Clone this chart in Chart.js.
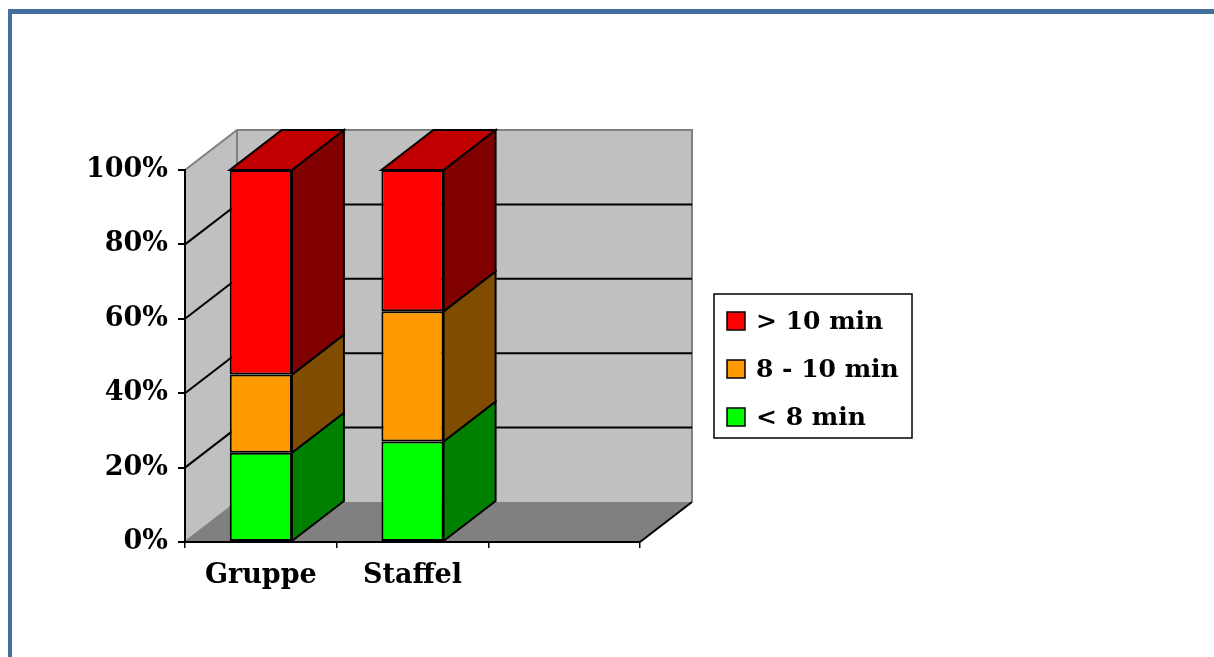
<!DOCTYPE html>
<html>
<head>
<meta charset="utf-8">
<script src="https://cdn.jsdelivr.net/npm/chart.js@4.4.1/dist/chart.umd.min.js"></script>
<style>
  html, body { margin: 0; padding: 0; background: #fff; overflow: hidden; }
  #frame { position: absolute; left: 8px; top: 9px; right: 0; bottom: 0;
           border-left: 4px solid #44709f; border-top: 5px solid #44709f; }
  #wrap { position: absolute; left: 0; top: 0; width: 1214px; height: 657px; }
</style>
</head>
<body>
<div id="frame"></div>
<div id="wrap"><canvas id="chart"></canvas></div>
<script>
// --- data ---
const categories = ['Gruppe', 'Staffel', ''];
const seriesLabels = ['< 8 min', '8 - 10 min', '> 10 min'];
const under8 = [24, 27, null];
const from8to10 = [21, 35, null];
const over10 = [55, 38, null];
const yTicks = [0, 20, 40, 60, 80, 100];

// --- styles ---
const frontColors = ['#00ff00', '#ff9900', '#ff0000'];
const sideColors = ['#008000', '#7f4c00', '#800000'];
const topColors = ['#00c000', '#c07300', '#c00000'];
const FONT = 'DejaVu Serif';
const DX = 52, DY = -40;   // depth of the 3D box

function poly(ctx, pts) {
    ctx.beginPath();
    ctx.moveTo(pts[0][0], pts[0][1]);
    for (let i = 1; i < pts.length; i++) ctx.lineTo(pts[i][0], pts[i][1]);
    ctx.closePath();
}

const box3d = {
    id: 'box3d',
    // walls + floor, before the axes are drawn
    beforeDraw(chart) {
        const { ctx, chartArea: a, scales: { y } } = chart;
        ctx.save();
        ctx.fillStyle = '#808080';
        poly(ctx, [[a.left, a.bottom], [a.left + DX, a.bottom + DY], [a.right + DX, a.bottom + DY], [a.right, a.bottom]]);
        ctx.fill();
        ctx.fillStyle = '#c0c0c0';
        poly(ctx, [[a.left, a.bottom], [a.left, a.top], [a.left + DX, a.top + DY], [a.left + DX, a.bottom + DY]]);
        ctx.fill();
        ctx.fillRect(a.left + DX, a.top + DY, a.right - a.left, a.bottom - a.top);

        ctx.strokeStyle = '#808080';
        ctx.lineWidth = 2;
        ctx.beginPath();
        ctx.moveTo(a.left, a.top);
        ctx.lineTo(a.left + DX, a.top + DY);
        ctx.lineTo(a.right + DX, a.top + DY);
        ctx.lineTo(a.right + DX, a.bottom + DY);
        ctx.moveTo(a.left + DX, a.top + DY);
        ctx.lineTo(a.left + DX, a.bottom + DY);
        ctx.moveTo(a.left, a.bottom);
        ctx.lineTo(a.left + DX, a.bottom + DY);
        ctx.stroke();

        ctx.strokeStyle = '#000';
        yTicks.filter(v => v > 0 && v < 100).forEach(v => {
            const py = y.getPixelForValue(v);
            ctx.beginPath();
            ctx.moveTo(a.left, py);
            ctx.lineTo(a.left + DX, py + DY);
            ctx.lineTo(a.right + DX, py + DY);
            ctx.stroke();
        });
        ctx.beginPath();
        ctx.moveTo(a.right, a.bottom);
        ctx.lineTo(a.right + DX, a.bottom + DY);
        ctx.stroke();
        ctx.restore();
    },
    // side and top faces of the bars
    afterDatasetsDraw(chart) {
        const ctx = chart.ctx;
        const sets = chart.data.datasets;
        ctx.save();
        ctx.lineWidth = 2;
        ctx.strokeStyle = '#000';
        for (let d = 0; d < sets.length; d++) {
            chart.getDatasetMeta(d).data.forEach((bar, i) => {
                const v = sets[d].data[i];
                if (v == null || v === 0) return;
                const { x, y, base, width } = bar.getProps(['x', 'y', 'base', 'width'], true);
                const l = x - width / 2, r = x + width / 2;
                ctx.fillStyle = sideColors[d];
                poly(ctx, [[r, y], [r + DX, y + DY], [r + DX, base + DY], [r, base]]);
                ctx.fill();
                ctx.stroke();
                let isTop = true;
                for (let k = d + 1; k < sets.length; k++) if (sets[k].data[i]) isTop = false;
                if (isTop) {
                    ctx.fillStyle = topColors[d];
                    poly(ctx, [[l, y], [l + DX, y + DY], [r + DX, y + DY], [r, y]]);
                    ctx.fill();
                    ctx.stroke();
                }
            });
        }
        ctx.restore();
    },
    // legend box
    afterDraw(chart) {
        const ctx = chart.ctx;
        const lg = { x: 714, y: 294, w: 198, h: 144, row: 48, sw: 18 };
        ctx.save();
        ctx.fillStyle = '#fff';
        ctx.fillRect(lg.x, lg.y, lg.w, lg.h);
        ctx.strokeStyle = '#000';
        ctx.lineWidth = 1.5;
        ctx.strokeRect(lg.x, lg.y, lg.w, lg.h);
        ctx.font = 'bold 25px "' + FONT + '"';
        ctx.textBaseline = 'middle';
        const sets = chart.data.datasets;
        for (let k = 0; k < sets.length; k++) {
            const d = sets.length - 1 - k;
            const cy = lg.y + 27 + k * lg.row;
            ctx.fillStyle = sets[d].backgroundColor;
            ctx.fillRect(lg.x + 13, cy - lg.sw / 2, lg.sw, lg.sw);
            ctx.lineWidth = 1.5;
            ctx.strokeRect(lg.x + 13, cy - lg.sw / 2, lg.sw, lg.sw);
            ctx.fillStyle = '#000';
            ctx.fillText(sets[d].label, lg.x + 42, cy + 1);
        }
        ctx.restore();
    }
};

const tickFont = { family: FONT, size: 27, weight: 'bold' };

new Chart(document.getElementById('chart'), {
    type: 'bar',
    data: {
        labels: categories,
        datasets: [
            { label: seriesLabels[0], data: under8, backgroundColor: frontColors[0] },
            { label: seriesLabels[1], data: from8to10, backgroundColor: frontColors[1] },
            { label: seriesLabels[2], data: over10, backgroundColor: frontColors[2] },
        ].map(ds => Object.assign(ds, {
            borderColor: '#000',
            borderWidth: 2,
            borderSkipped: false,
            categoryPercentage: 1,
            barPercentage: 0.41,
        }))
    },
    plugins: [box3d],
    options: {
        responsive: true,
        maintainAspectRatio: false,
        animation: false,
        layout: { padding: { top: 170, right: 574, left: 0, bottom: 0 } },
        plugins: { legend: { display: false }, tooltip: { enabled: false } },
        scales: {
            x: {
                stacked: true,
                afterFit: s => { s.height = 115; },
                grid: { offset: true, drawOnChartArea: false, tickLength: 6, color: '#000', lineWidth: 1.5 },
                border: { display: true, color: '#000', width: 2 },
                ticks: { font: tickFont, color: '#000', padding: 12 }
            },
            y: {
                stacked: true,
                min: 0,
                max: 100,
                afterFit: s => { s.width = 185; },
                afterBuildTicks: s => { s.ticks = yTicks.map(v => ({ value: v })); },
                grid: { drawOnChartArea: false, tickLength: 7, color: '#000', lineWidth: 2 },
                border: { display: true, color: '#000', width: 2 },
                ticks: { font: tickFont, color: '#000', padding: 10, callback: v => v + '%' }
            }
        }
    }
});
</script>
</body>
</html>
